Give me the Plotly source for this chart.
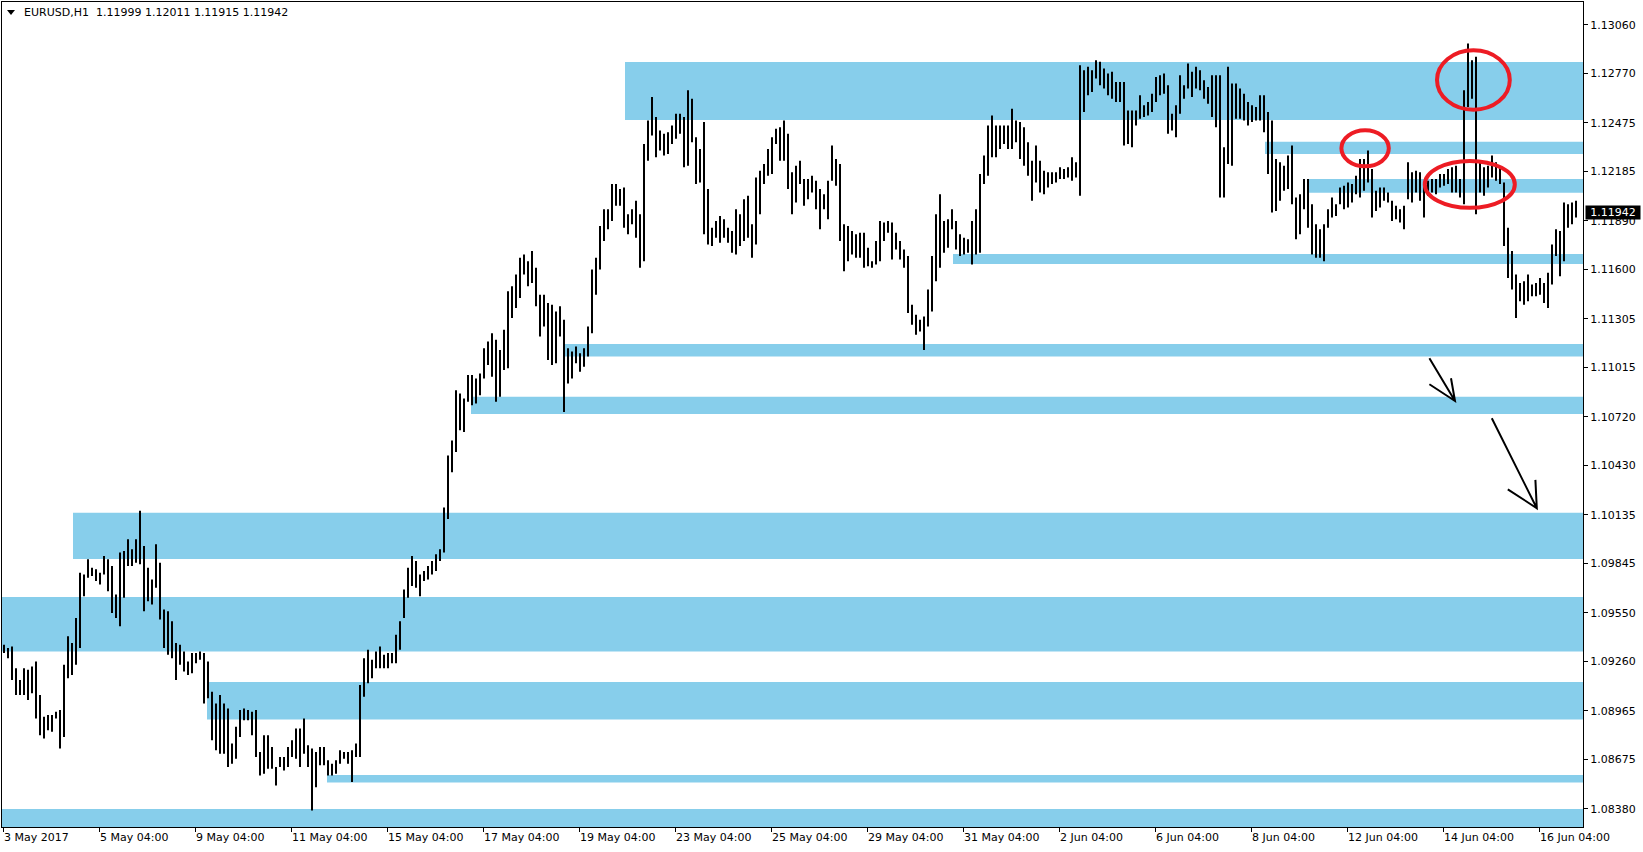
import plotly.graph_objects as go

# EURUSD H1, 3 May - 16 Jun 2017. Each entry is the high/low range of two consecutive H1 bars.
bar_high = [
    1.0936, 1.0934, 1.0935, 1.0922, 1.0915, 1.0922, 1.0921, 1.0923, 1.0926, 1.0906,
    1.0893, 1.0894, 1.0894, 1.0896, 1.0897, 1.0924, 1.0941, 1.0937, 1.0952, 1.0979,
    1.0978, 1.0987, 1.0982, 1.0981, 1.0979, 1.0989, 1.0987, 1.0983, 1.0966, 1.0991,
    1.0992, 1.0999, 1.0993, 1.0999, 1.1016, 1.0995, 1.0982, 1.0975, 1.0996, 1.0985,
    1.0957, 1.0956, 1.0950, 1.0937, 1.0936, 1.0932, 1.0926, 1.0931, 1.0931, 1.0932,
    1.0931, 1.0926, 1.0908, 1.0901, 1.0906, 1.0901, 1.0898, 1.0877, 1.0887, 1.0897,
    1.0898, 1.0897, 1.0896, 1.0897, 1.0872, 1.0882, 1.0882, 1.0875, 1.0863, 1.0869,
    1.0869, 1.0875, 1.0879, 1.0886, 1.0886, 1.0892, 1.0876, 1.0874, 1.0872, 1.0875,
    1.0875, 1.0867, 1.0865, 1.0867, 1.0873, 1.0872, 1.0872, 1.0873, 1.0877, 1.0912,
    1.0928, 1.0933, 1.0927, 1.0932, 1.0935, 1.0930, 1.0931, 1.0931, 1.0942, 1.0950,
    1.0969, 1.0982, 1.0989, 1.0986, 1.0978, 1.0980, 1.0983, 1.0986, 1.0990, 1.0993,
    1.1018, 1.1049, 1.1058, 1.1088, 1.1086, 1.1083, 1.1097, 1.1097, 1.1095, 1.1098,
    1.1113, 1.1117, 1.1122, 1.1118, 1.1112, 1.1124, 1.1147, 1.1150, 1.1157, 1.1167,
    1.1169, 1.1165, 1.1171, 1.1161, 1.1145, 1.1145, 1.1140, 1.1139, 1.1135, 1.1138,
    1.1130, 1.1113, 1.1111, 1.1114, 1.1110, 1.1113, 1.1126, 1.1160, 1.1167, 1.1186,
    1.1196, 1.1196, 1.1211, 1.1211, 1.1208, 1.1209, 1.1193, 1.1196, 1.1201, 1.1193,
    1.1235, 1.1249, 1.1263, 1.1251, 1.1243, 1.1241, 1.1242, 1.1246, 1.1253, 1.1253,
    1.1251, 1.1267, 1.1262, 1.1239, 1.1232, 1.1248, 1.1208, 1.1185, 1.1189, 1.1192,
    1.1190, 1.1185, 1.1183, 1.1196, 1.1193, 1.1202, 1.1204, 1.1187, 1.1215, 1.1219,
    1.1223, 1.1232, 1.1239, 1.1244, 1.1245, 1.1249, 1.1241, 1.1218, 1.1222, 1.1225,
    1.1214, 1.1214, 1.1216, 1.1213, 1.1208, 1.1205, 1.1213, 1.1234, 1.1226, 1.1223,
    1.1187, 1.1186, 1.1183, 1.1181, 1.1182, 1.1182, 1.1173, 1.1165, 1.1177, 1.1189,
    1.1188, 1.1189, 1.1188, 1.1182, 1.1177, 1.1172, 1.1168, 1.1139, 1.1133, 1.1130,
    1.1132, 1.1148, 1.1168, 1.1193, 1.1205, 1.1189, 1.1190, 1.1196, 1.1189, 1.1181,
    1.1179, 1.1178, 1.1189, 1.1196, 1.1217, 1.1228, 1.1246, 1.1252, 1.1246, 1.1246,
    1.1246, 1.1246, 1.1256, 1.1249, 1.1248, 1.1245, 1.1236, 1.1225, 1.1234, 1.1225,
    1.1219, 1.1218, 1.1218, 1.1218, 1.1221, 1.1220, 1.1221, 1.1227, 1.1224, 1.1282,
    1.1279, 1.1281, 1.1279, 1.1285, 1.1284, 1.1280, 1.1277, 1.1278, 1.1272, 1.1272,
    1.1272, 1.1255, 1.1255, 1.1255, 1.1264, 1.1258, 1.1260, 1.1265, 1.1275, 1.1276,
    1.1277, 1.1270, 1.1253, 1.1258, 1.1276, 1.1270, 1.1283, 1.1278, 1.1281, 1.1279,
    1.1273, 1.1269, 1.1276, 1.1276, 1.1276, 1.1233, 1.1281, 1.1271, 1.1271, 1.1268,
    1.1265, 1.1260, 1.1258, 1.1257, 1.1264, 1.1264, 1.1254, 1.1249, 1.1226, 1.1224,
    1.1222, 1.1228, 1.1234, 1.1203, 1.1205, 1.1214, 1.1214, 1.1199, 1.1187, 1.1184,
    1.1187, 1.1196, 1.1203, 1.1199, 1.1209, 1.1210, 1.1212, 1.1211, 1.1216, 1.1226,
    1.1226, 1.1231, 1.1220, 1.1207, 1.1209, 1.1209, 1.1206, 1.1201, 1.1198, 1.1196,
    1.1198, 1.1224, 1.1218, 1.1219, 1.1218, 1.1210, 1.1213, 1.1214, 1.1214, 1.1217,
    1.1217, 1.1220, 1.1221, 1.1222, 1.1214, 1.1267, 1.1295, 1.1285, 1.1287, 1.1224,
    1.1221, 1.1222, 1.1228, 1.1224, 1.1221, 1.1212, 1.1185, 1.1171, 1.1157, 1.1152,
    1.1153, 1.1157, 1.1151, 1.1152, 1.1155, 1.1152, 1.1158, 1.1175, 1.1184, 1.1183,
    1.1200, 1.1199, 1.1200, 1.1201,
]
bar_low = [
    1.0931, 1.0928, 1.0915, 1.0906, 1.0906, 1.0906, 1.0903, 1.0907, 1.0892, 1.0882,
    1.0880, 1.0885, 1.0884, 1.0892, 1.0874, 1.0881, 1.0916, 1.0918, 1.0924, 1.0934,
    1.0965, 1.0976, 1.0977, 1.0974, 1.0972, 1.0978, 1.0968, 1.0955, 1.0952, 1.0947,
    1.0964, 1.0983, 1.0983, 1.0985, 1.0984, 1.0956, 1.0962, 1.0960, 1.0970, 1.0951,
    1.0934, 1.0930, 1.0928, 1.0915, 1.0924, 1.0920, 1.0918, 1.0919, 1.0925, 1.0927,
    1.0901, 1.0904, 1.0879, 1.0873, 1.0871, 1.0871, 1.0863, 1.0865, 1.0868, 1.0881,
    1.0891, 1.0891, 1.0882, 1.0869, 1.0858, 1.0859, 1.0862, 1.0862, 1.0852, 1.0863,
    1.0861, 1.0863, 1.0869, 1.0868, 1.0863, 1.0871, 1.0863, 1.0837, 1.0851, 1.0864,
    1.0864, 1.0858, 1.0858, 1.0859, 1.0865, 1.0868, 1.0865, 1.0854, 1.0869, 1.0869,
    1.0905, 1.0913, 1.0916, 1.0922, 1.0922, 1.0922, 1.0922, 1.0925, 1.0925, 1.0933,
    1.0952, 1.0964, 1.0971, 1.0970, 1.0965, 1.0974, 1.0975, 1.0978, 1.0980, 1.0986,
    1.0991, 1.1011, 1.1039, 1.1051, 1.1064, 1.1063, 1.1081, 1.1079, 1.1080, 1.1085,
    1.1095, 1.1103, 1.1096, 1.1081, 1.1084, 1.1100, 1.1101, 1.1131, 1.1137, 1.1143,
    1.1157, 1.1150, 1.1152, 1.1138, 1.1120, 1.1126, 1.1106, 1.1103, 1.1104, 1.1120,
    1.1075, 1.1092, 1.1095, 1.1104, 1.1099, 1.1102, 1.1108, 1.1122, 1.1145, 1.1160,
    1.1177, 1.1184, 1.1189, 1.1198, 1.1198, 1.1185, 1.1181, 1.1187, 1.1179, 1.1161,
    1.1165, 1.1225, 1.1240, 1.1227, 1.1231, 1.1228, 1.1229, 1.1235, 1.1238, 1.1241,
    1.1221, 1.1222, 1.1236, 1.1211, 1.1212, 1.1181, 1.1175, 1.1174, 1.1179, 1.1176,
    1.1179, 1.1176, 1.1170, 1.1169, 1.1174, 1.1177, 1.1179, 1.1167, 1.1175, 1.1193,
    1.1211, 1.1216, 1.1217, 1.1235, 1.1225, 1.1225, 1.1208, 1.1193, 1.1200, 1.1211,
    1.1198, 1.1202, 1.1206, 1.1196, 1.1184, 1.1196, 1.1190, 1.1213, 1.1210, 1.1177,
    1.1159, 1.1165, 1.1169, 1.1167, 1.1167, 1.1161, 1.1162, 1.1161, 1.1163, 1.1165,
    1.1177, 1.1182, 1.1166, 1.1172, 1.1166, 1.1161, 1.1134, 1.1127, 1.1121, 1.1123,
    1.1112, 1.1126, 1.1135, 1.1153, 1.1161, 1.1170, 1.1173, 1.1184, 1.1172, 1.1168,
    1.1169, 1.1170, 1.1163, 1.1169, 1.1170, 1.1211, 1.1216, 1.1227, 1.1227, 1.1232,
    1.1235, 1.1232, 1.1232, 1.1236, 1.1226, 1.1222, 1.1216, 1.1201, 1.1212, 1.1206,
    1.1205, 1.1209, 1.1211, 1.1212, 1.1214, 1.1214, 1.1215, 1.1213, 1.1215, 1.1204,
    1.1254, 1.1264, 1.1266, 1.1274, 1.1270, 1.1268, 1.1264, 1.1262, 1.1260, 1.1260,
    1.1234, 1.1235, 1.1233, 1.1246, 1.1250, 1.1251, 1.1252, 1.1254, 1.1260, 1.1264,
    1.1265, 1.1241, 1.1243, 1.1239, 1.1253, 1.1262, 1.1268, 1.1263, 1.1268, 1.1267,
    1.1262, 1.1259, 1.1251, 1.1245, 1.1203, 1.1203, 1.1223, 1.1222, 1.1250, 1.1250,
    1.1249, 1.1246, 1.1248, 1.1249, 1.1249, 1.1242, 1.1217, 1.1194, 1.1195, 1.1201,
    1.1207, 1.1208, 1.1199, 1.1178, 1.1181, 1.1196, 1.1185, 1.1169, 1.1167, 1.1167,
    1.1165, 1.1185, 1.1191, 1.1192, 1.1199, 1.1196, 1.1197, 1.1200, 1.1205, 1.1203,
    1.1207, 1.1212, 1.1191, 1.1195, 1.1197, 1.1201, 1.1200, 1.1189, 1.1190, 1.1188,
    1.1184, 1.1202, 1.1200, 1.1206, 1.1201, 1.1191, 1.1204, 1.1206, 1.1205, 1.1209,
    1.1210, 1.1211, 1.1206, 1.1206, 1.1203, 1.1199, 1.1257, 1.1262, 1.1193, 1.1206,
    1.1204, 1.1209, 1.1215, 1.1213, 1.1211, 1.1174, 1.1155, 1.1148, 1.1131, 1.1141,
    1.1139, 1.1141, 1.1144, 1.1144, 1.1145, 1.1140, 1.1137, 1.1151, 1.1168, 1.1156,
    1.1165, 1.1185, 1.1187, 1.1191,
]

# time axis (bar index, H1), labels every 48 bars
date_ticks = [0, 48, 96, 144, 192, 240, 288, 336, 384, 432, 480, 528, 576, 624, 672, 720, 768]
date_labels = ["3 May 2017", "5 May 04:00", "9 May 04:00", "11 May 04:00", "15 May 04:00",
               "17 May 04:00", "19 May 04:00", "23 May 04:00", "25 May 04:00", "29 May 04:00",
               "31 May 04:00", "2 Jun 04:00", "6 Jun 04:00", "8 Jun 04:00", "12 Jun 04:00",
               "14 Jun 04:00", "16 Jun 04:00"]
price_ticks = [1.13060, 1.12770, 1.12475, 1.12185, 1.11890, 1.11600, 1.11305, 1.11015, 1.10720,
               1.10430, 1.10135, 1.09845, 1.09550, 1.09260, 1.08965, 1.08675, 1.08380]

# support / resistance zones: start bar, top, bottom
zone_start = [311, 631, 652, 475, 281, 234, 35, -0.5, 102, 162, -0.5]
zone_top = [1.12839, 1.12363, 1.12141, 1.11693, 1.11156, 1.10841, 1.10148, 1.09645, 1.09138, 1.08583, 1.08380]
zone_bottom = [1.12493, 1.12290, 1.12059, 1.11633, 1.11080, 1.10738, 1.09872, 1.09319, 1.08913, 1.08537, 1.08272]

# red ellipses (bar from, bar to, price low, price high)
ellipses = [(669.2, 692.9, 1.12216, 1.12431),
            (717.0, 753.4, 1.12554, 1.12909),
            (710.9, 755.9, 1.11968, 1.12248)]

# hand drawn arrows: start, tip, two barb ends
arrows = [((713.2, 1.11070), (726.0, 1.10815), (713.2, 1.10915), (724.0, 1.10951)),
          ((744.4, 1.10712), (766.9, 1.10175), (752.4, 1.10288), (766.2, 1.10344))]

last_price = 1.11942
header = "EURUSD,H1\u00a0\u00a01.11999 1.12011 1.11915 1.11942"

X_MIN, X_MAX = -0.5, 790
Y_MIN, Y_MAX = 1.08272, 1.13197
FONT = dict(family="DejaVu Sans", size=11, color="black")

bar_x = [2 * k + 0.5 for k in range(len(bar_high))]
xs, ys = [], []
for x, h, l in zip(bar_x, bar_high, bar_low):
    xs += [x, x, None]
    ys += [l, h, None]

fig = go.Figure()
fig.add_trace(go.Scatter(x=xs, y=ys, mode="lines", line=dict(color="black", width=2),
                         hoverinfo="skip", showlegend=False))

shapes = []
for x0, top, bot in zip(zone_start, zone_top, zone_bottom):
    shapes.append(dict(type="rect", xref="x", yref="y", x0=x0, x1=X_MAX, y0=bot, y1=top,
                       fillcolor="#87CEEB", line=dict(width=0), layer="below"))
for x0, x1, y0, y1 in ellipses:
    shapes.append(dict(type="circle", xref="x", yref="y", x0=x0, x1=x1, y0=y0, y1=y1,
                       line=dict(color="#ED1C24", width=4)))
for (sx, sy), (tx, ty), (ax, ay), (bx, by) in arrows:
    path = f"M {sx} {sy} L {tx} {ty} M {ax} {ay} L {tx} {ty} L {bx} {by}"
    shapes.append(dict(type="path", xref="x", yref="y", path=path,
                       line=dict(color="black", width=2)))
# small triangle in the header
shapes.append(dict(type="path", xref="paper", yref="paper",
                   path="M 0.00316 0.99030 L 0.00822 0.99030 L 0.00569 0.98424 Z",
                   fillcolor="black", line=dict(width=0)))

annotations = [
    dict(xref="paper", yref="paper", x=0.0127, y=0.9870, xanchor="left", yanchor="middle",
         text=header, showarrow=False, font=FONT),
    dict(xref="paper", yref="y", x=1.0013, y=last_price, xanchor="left", yanchor="middle",
         text=f"{last_price:.5f}", showarrow=False, bgcolor="black", borderpad=0, width=54,
         font=dict(family="DejaVu Sans", size=11, color="white")),
]

fig.update_layout(
    width=1643, height=852, autosize=False,
    margin=dict(l=2, r=60, t=2, b=25),
    paper_bgcolor="white", plot_bgcolor="white",
    shapes=shapes, annotations=annotations, font=FONT,
    xaxis=dict(range=[X_MIN, X_MAX], showgrid=False, zeroline=False,
               showline=True, mirror=True, linecolor="black", linewidth=1,
               ticks="outside", ticklen=4, tickcolor="black",
               tickvals=date_ticks, ticktext=date_labels,
               ticklabelposition="outside right", tickfont=FONT),
    yaxis=dict(range=[Y_MIN, Y_MAX], side="right", showgrid=False, zeroline=False,
               showline=True, mirror=True, linecolor="black", linewidth=1,
               ticks="outside", ticklen=4, tickcolor="black",
               tickvals=price_ticks, ticktext=[f"{p:.5f}" for p in price_ticks],
               tickfont=FONT),
)

# the page body keeps a default 8px margin; drop it so the chart fills the window
fig.write_html("out.html", config={"displayModeBar": False},
               post_script="document.body.style.margin='0';document.body.style.overflow='hidden';")
